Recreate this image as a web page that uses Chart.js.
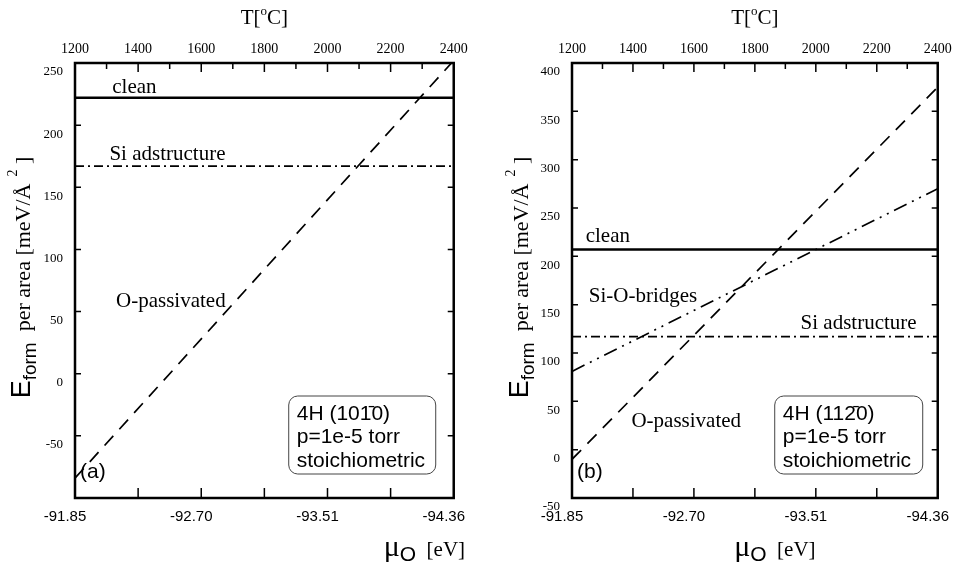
<!DOCTYPE html>
<html><head><meta charset="utf-8">
<script src="https://cdn.jsdelivr.net/npm/chart.js@4.4.1/dist/chart.umd.min.js"></script>
<style>
html,body{margin:0;padding:0;background:#fff;}
#wrap{position:relative;width:969px;height:568px;overflow:hidden;background:#fff;}
canvas{position:absolute;top:0;}
</style></head><body>
<div id="wrap">
<canvas id="ca" width="485" height="568" style="left:0;width:485px;height:568px"></canvas>
<canvas id="cb" width="484" height="568" style="left:485px;width:484px;height:568px"></canvas>
</div>
<script>
// ---------------- data ----------------
const tempEnds = [1200, 2400];                       // T [°C] at both ends of every line
const muTickTemps = [1200, 1600, 2000, 2400];        // where the mu_O labels sit
const muTickLabels = ['-91.85', '-92.70', '-93.51', '-94.36'];
// panel (a): 4H (10-10)
const cleanA = [222, 222];
const siAdstructureA = [167, 167];
const oPassivatedA = [-84, 252];
// panel (b): 4H (11-20)
const cleanB = [207, 207];
const siAdstructureB = [117, 117];
const siOBridgesB = [81, 270];
const oPassivatedB = [-10, 375];

const SERIF = '"Liberation Serif", "DejaVu Serif", serif';
const SANS = '"Liberation Sans", Arial, sans-serif';

function pts(vals) { return tempEnds.map((t, i) => ({ x: t, y: vals[i] })); }

function ds(label, vals, width, dash) {
  return { label, data: pts(vals), borderColor: '#000', borderWidth: width, borderDash: dash,
           pointRadius: 0, fill: false, tension: 0, xAxisID: 'x', yAxisID: 'y' };
}

function richText(ctx, parts, x, y, rotate, center) {
  ctx.save();
  ctx.translate(x, y);
  if (rotate) ctx.rotate(-Math.PI / 2);
  let total = 0;
  parts.forEach(p => { ctx.font = p.font; p.w = ctx.measureText(p.t).width; total += p.w; });
  let cx = center ? -total / 2 : 0;
  ctx.textAlign = 'left';
  ctx.textBaseline = 'alphabetic';
  ctx.fillStyle = '#000';
  parts.forEach(p => { ctx.font = p.font; ctx.fillText(p.t, cx, p.dy || 0); cx += p.w; });
  ctx.restore();
}

function roundRect(ctx, x, y, w, h, r) {
  ctx.beginPath();
  ctx.moveTo(x + r, y);
  ctx.arcTo(x + w, y, x + w, y + h, r);
  ctx.arcTo(x + w, y + h, x, y + h, r);
  ctx.arcTo(x, y + h, x, y, r);
  ctx.arcTo(x, y, x + w, y, r);
  ctx.closePath();
}

const decorPlugin = {
  id: 'decor',
  afterDraw(chart) {
    const ctx = chart.ctx, a = chart.chartArea, o = chart.options.plugins.decor;
    const sx = chart.scales.x, sy = chart.scales.y;
    ctx.save();
    ctx.strokeStyle = '#000';
    ctx.lineWidth = 1.5;
    // inward ticks
    ctx.beginPath();
    chart.scales.y.ticks.forEach(t => {
      const py = sy.getPixelForValue(t.value);
      ctx.moveTo(a.left, py); ctx.lineTo(a.left + 6, py);
      ctx.moveTo(a.right, py); ctx.lineTo(a.right - 6, py);
    });
    chart.scales.x.ticks.forEach(t => {
      const px = sx.getPixelForValue(t.value);
      ctx.moveTo(px, a.bottom); ctx.lineTo(px, a.bottom - 10);
    });
    chart.scales.x2.ticks.forEach(t => {
      const px = chart.scales.x2.getPixelForValue(t.value);
      const len = (t.value % 200 === 0) ? 9 : 6;
      ctx.moveTo(px, a.top); ctx.lineTo(px, a.top + len);
    });
    ctx.stroke();
    // frame
    ctx.lineWidth = 2.5;
    ctx.strokeRect(a.left, a.top, a.right - a.left, a.bottom - a.top);
    ctx.restore();

    // in-plot labels
    ctx.save();
    ctx.fillStyle = '#000';
    o.labels.forEach(l => {
      ctx.font = l.font;
      ctx.textAlign = 'left';
      ctx.textBaseline = 'middle';
      ctx.fillText(l.text, sx.getPixelForValue(l.x), sy.getPixelForValue(l.y));
    });
    // box
    const bx = a.right - o.box.right - o.box.w, by = a.bottom - o.box.bottom - o.box.h;
    ctx.lineWidth = 1;
    ctx.strokeStyle = '#444';
    roundRect(ctx, bx, by, o.box.w, o.box.h, 9);
    ctx.stroke();
    ctx.font = '21px ' + SANS;
    ctx.textAlign = 'left';
    ctx.textBaseline = 'middle';
    o.box.lines.forEach((s, i) => ctx.fillText(s, bx + 8, by + 18 + i * 23.5));
    // panel letter
    ctx.font = '21px ' + SANS;
    ctx.fillText(o.letter, a.left + 5, a.bottom - 26);
    ctx.restore();

    // axis titles
    const cxm = (a.left + a.right) / 2;
    richText(ctx, [{ t: 'T[', font: '21px ' + SERIF }, { t: 'o', font: '13px ' + SERIF, dy: -9 },
                   { t: 'C]', font: '21px ' + SERIF }], cxm, 24, false, true);
    richText(ctx, [{ t: '\u03BC', font: '30px ' + SERIF }, { t: 'O', font: '21px ' + SANS, dy: 5 },
                   { t: '  [eV]', font: '21px ' + SERIF }], cxm + o.muShift, 556, false, true);
    const cym = (a.top + a.bottom) / 2 - 3;
    richText(ctx, [{ t: 'E', font: '27px ' + SANS }, { t: 'form', font: '19px ' + SANS, dy: 6 },
                   { t: '  per area [meV/\u00C5', font: '22px ' + SERIF },
                   { t: '  2', font: '14px ' + SERIF, dy: -13 }, { t: ' ]', font: '22px ' + SERIF }],
             o.titleX, cym, true, true);
  }
};

function makeChart(id, datasets, ymin, ymax, sizes, decor) {
  return new Chart(document.getElementById(id), {
    type: 'line',
    data: { datasets },
    plugins: [decorPlugin],
    options: {
      responsive: false, animation: false, devicePixelRatio: 1,
      layout: { padding: 0 },
      plugins: { legend: { display: false }, tooltip: { enabled: false }, decor },
      scales: {
        x: { type: 'linear', position: 'bottom', min: 1200, max: 2400,
             grid: { display: false, drawTicks: false }, border: { display: false },
             ticks: { stepSize: 200, autoSkip: false, maxRotation: 0, padding: 10, labelOffset: -10,
                      color: '#000', font: { family: SANS, size: 15 },
                      callback: v => { const i = muTickTemps.indexOf(v); return i >= 0 ? muTickLabels[i] : ''; } },
             afterFit: s => { s.height = sizes.bottom; } },
        x2: { type: 'linear', position: 'top', min: 1200, max: 2400,
              grid: { display: false, drawTicks: false }, border: { display: false },
              ticks: { stepSize: 100, autoSkip: false, maxRotation: 0, padding: 5,
                       color: '#000', font: { family: SERIF, size: 14 },
                       callback: v => (v % 200 === 0 ? String(v) : '') },
              afterFit: s => { s.height = sizes.top; } },
        y: { type: 'linear', position: 'left', min: ymin, max: ymax,
             grid: { display: false, drawTicks: false }, border: { display: false },
             ticks: { stepSize: 50, padding: 12, labelOffset: 9, color: '#000', font: { family: SERIF, size: 13 },
                      callback: v => (v === -100 ? '' : String(v)) },
             afterFit: s => { s.width = sizes.left; } },
        y2: { type: 'linear', position: 'right', min: ymin, max: ymax,
              grid: { display: false, drawTicks: false }, border: { display: false },
              ticks: { display: false },
              afterFit: s => { s.width = sizes.right; } }
      }
    }
  });
}

makeChart('ca', [
  ds('clean', cleanA, 2.5, []),
  ds('Si adstructure', siAdstructureA, 1.7, [9, 4, 2, 4]),
  ds('O-passivated', oPassivatedA, 1.7, [13, 9])
], -100, 250, { left: 75, right: 20, top: 63, bottom: 70 }, {
  labels: [
    { text: 'clean', x: 1318, y: 230, font: '21px ' + SERIF },
    { text: 'Si adstructure', x: 1309, y: 176, font: '21px ' + SERIF },
    { text: 'O-passivated', x: 1330, y: 58, font: '21px ' + SERIF }
  ],
  box: { w: 147, h: 78, right: 18, bottom: 24, lines: ['4H (101\u03040)', 'p=1e-5 torr', 'stoichiometric'] },
  letter: '(a)', muShift: 160, titleX: 30
});

makeChart('cb', [
  ds('clean', cleanB, 2.5, []),
  ds('Si adstructure', siAdstructureB, 1.7, [9, 4, 2, 4]),
  ds('Si-O-bridges', siOBridgesB, 1.7, [14, 6, 2, 6, 2, 6]),
  ds('O-passivated', oPassivatedB, 1.7, [13, 9])
], -50, 400, { left: 87, right: 16, top: 63, bottom: 70 }, {
  labels: [
    { text: 'clean', x: 1245, y: 221, font: '21px ' + SERIF },
    { text: 'Si-O-bridges', x: 1255, y: 158, font: '21px ' + SERIF },
    { text: 'Si adstructure', x: 1950, y: 131, font: '21px ' + SERIF },
    { text: 'O-passivated', x: 1395, y: 29, font: '21px ' + SERIF }
  ],
  box: { w: 148, h: 78, right: 15, bottom: 24, lines: ['4H (112\u03040)', 'p=1e-5 torr', 'stoichiometric'] },
  letter: '(b)', muShift: 20, titleX: 43
});
</script>
</body></html>
